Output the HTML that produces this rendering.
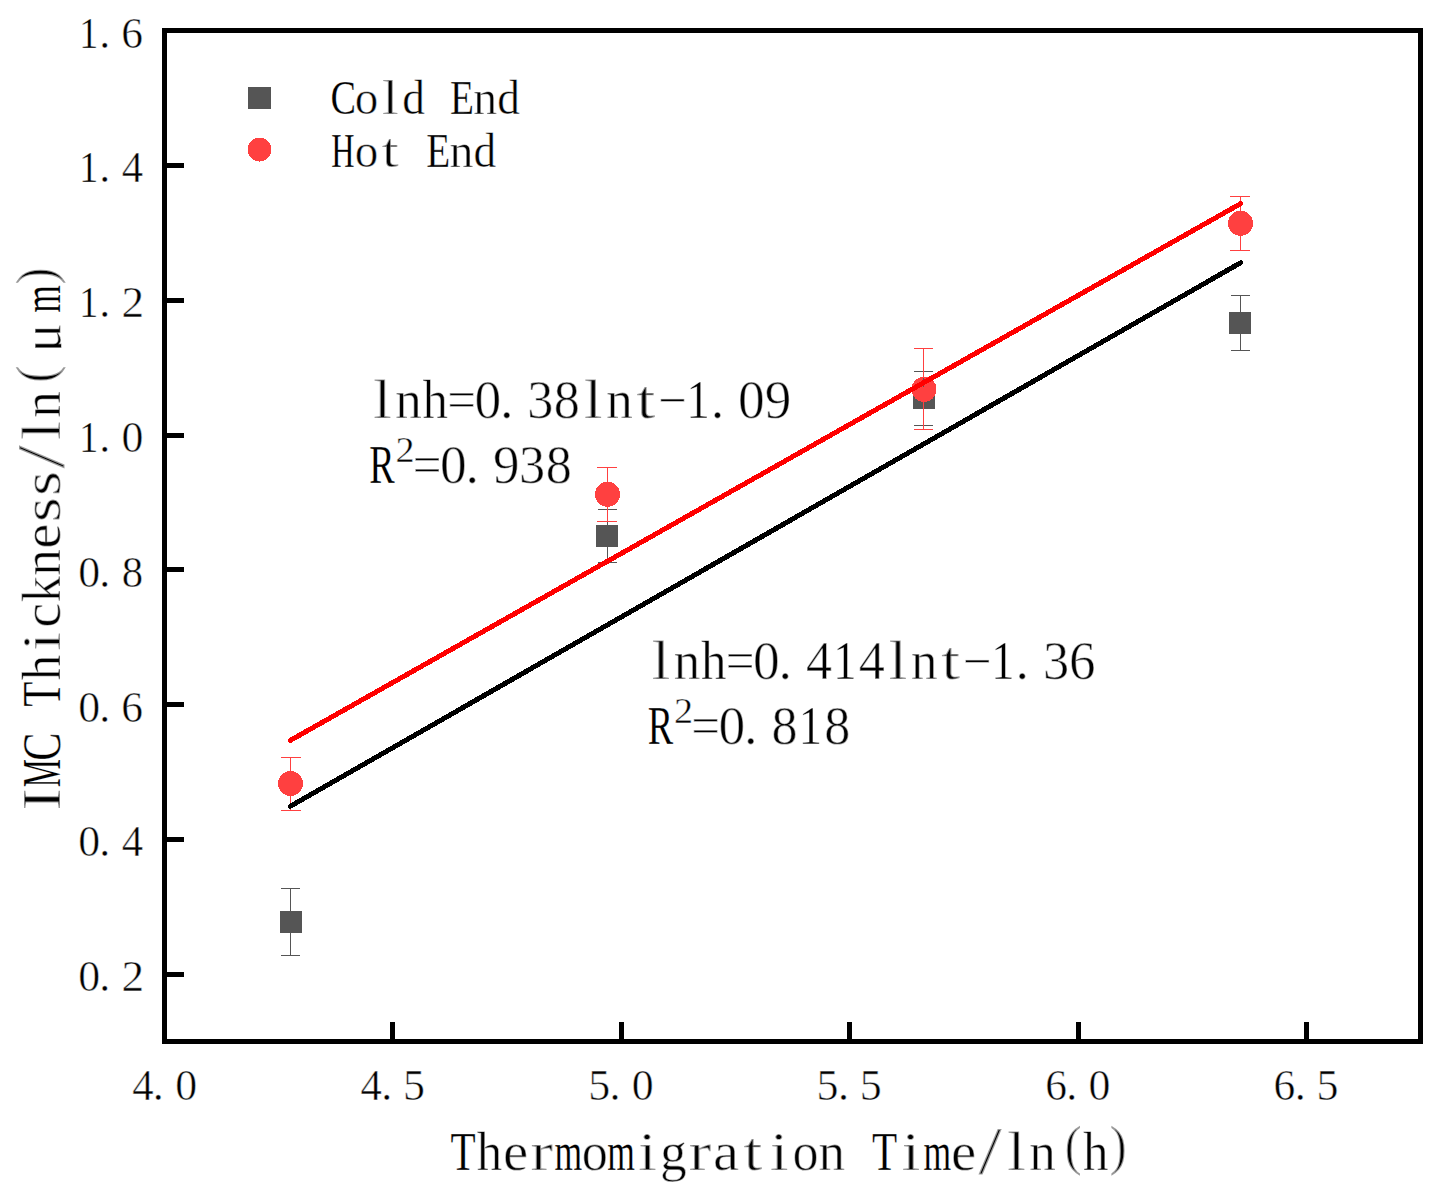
<!DOCTYPE html>
<html lang="en">
<head>
<meta charset="utf-8">
<title>IMC Thickness vs Thermomigration Time</title>
<style>
html,body{margin:0;padding:0;background:#fff;}
body{width:1436px;height:1187px;overflow:hidden;font-family:"Liberation Serif",serif;}
svg{display:block;}
text{white-space:pre;stroke:#fff;stroke-opacity:0.6;}
</style>
</head>
<body>
<svg width="1436" height="1187" viewBox="0 0 1436 1187" font-family="'Liberation Serif', serif" fill="#000">
<rect x="0" y="0" width="1436" height="1187" fill="#fff"/>
<g fill="#000" shape-rendering="crispEdges">
<rect x="165" y="972" width="19" height="5"/>
<rect x="165" y="837" width="19" height="5"/>
<rect x="165" y="702" width="19" height="5"/>
<rect x="165" y="567" width="19" height="5"/>
<rect x="165" y="433" width="19" height="5"/>
<rect x="165" y="298" width="19" height="5"/>
<rect x="165" y="163" width="19" height="5"/>
<rect x="390" y="1022" width="5" height="19"/>
<rect x="619" y="1022" width="5" height="19"/>
<rect x="847" y="1022" width="5" height="19"/>
<rect x="1076" y="1022" width="5" height="19"/>
<rect x="1304" y="1022" width="5" height="19"/>
<path d="M162 28H1423V1044H162Z M167 33V1039H1418V33Z" fill-rule="evenodd"/>
</g>
<g shape-rendering="crispEdges">
<path d="M281 888 h19 v1 h-19z M281 955 h19 v1 h-19z M290 888 h1 v68 h-1z" fill="#555555"/>
<path d="M598 509 h19 v1 h-19z M598 562 h19 v1 h-19z M607 509 h1 v54 h-1z" fill="#555555"/>
<path d="M914 371 h19 v1 h-19z M914 425 h19 v1 h-19z M923 371 h1 v55 h-1z" fill="#555555"/>
<path d="M1231 295 h19 v1 h-19z M1231 350 h19 v1 h-19z M1240 295 h1 v56 h-1z" fill="#555555"/>
<rect x="280" y="911" width="22" height="22" fill="#555555"/>
<rect x="596" y="525" width="22" height="22" fill="#555555"/>
<rect x="913" y="387" width="22" height="22" fill="#555555"/>
<rect x="1229" y="312" width="22" height="22" fill="#555555"/>
<path d="M281 757 h20 v1 h-20z M281 810 h20 v1 h-20z M290 757 h1 v54 h-1z" fill="#ff4040"/>
<path d="M597 467 h20 v1 h-20z M597 521 h20 v1 h-20z M607 467 h1 v55 h-1z" fill="#ff4040"/>
<path d="M914 348 h19 v1 h-19z M914 429 h19 v1 h-19z M923 348 h1 v82 h-1z" fill="#ff4040"/>
<path d="M1230 196 h20 v1 h-20z M1230 250 h20 v1 h-20z M1240 196 h1 v55 h-1z" fill="#ff4040"/>
<circle cx="290.5" cy="783.5" r="12.5" fill="#ff4040"/>
<circle cx="607.5" cy="494.3" r="12.5" fill="#ff4040"/>
<circle cx="924" cy="389.4" r="12.5" fill="#ff4040"/>
<circle cx="1240.5" cy="223.3" r="12.5" fill="#ff4040"/>
<rect x="923" y="378" width="1" height="9" fill="#555555"/>
<line x1="290.5" y1="806.2" x2="1240.5" y2="262.8" stroke="#000" stroke-width="5" stroke-linecap="round"/>
<line x1="290.5" y1="740.3" x2="1240.5" y2="203.7" stroke="#ff0000" stroke-width="5" stroke-linecap="round"/>
</g>
<rect x="248" y="87" width="23" height="22" fill="#555555" shape-rendering="crispEdges"/>
<circle cx="259.5" cy="149.5" r="12" fill="#ff4040" shape-rendering="crispEdges"/>
<text y="991.1" font-size="44" stroke-width="1.06"><tspan x="78.34" textLength="21.91" lengthAdjust="spacingAndGlyphs">0</tspan><tspan x="99.24" textLength="11" lengthAdjust="spacingAndGlyphs">.</tspan><tspan x="121.44" textLength="22.63" lengthAdjust="spacingAndGlyphs">2</tspan></text>
<text y="856.3" font-size="44" stroke-width="1.06"><tspan x="78.34" textLength="21.91" lengthAdjust="spacingAndGlyphs">0</tspan><tspan x="99.24" textLength="11" lengthAdjust="spacingAndGlyphs">.</tspan><tspan x="121.73" textLength="21.37" lengthAdjust="spacingAndGlyphs">4</tspan></text>
<text y="721.5" font-size="44" stroke-width="1.06"><tspan x="78.34" textLength="21.91" lengthAdjust="spacingAndGlyphs">0</tspan><tspan x="99.24" textLength="11" lengthAdjust="spacingAndGlyphs">.</tspan><tspan x="121.34" textLength="21.74" lengthAdjust="spacingAndGlyphs">6</tspan></text>
<text y="586.7" font-size="44" stroke-width="1.06"><tspan x="78.34" textLength="21.91" lengthAdjust="spacingAndGlyphs">0</tspan><tspan x="99.24" textLength="11" lengthAdjust="spacingAndGlyphs">.</tspan><tspan x="121.8" textLength="21.4" lengthAdjust="spacingAndGlyphs">8</tspan></text>
<text y="451.9" font-size="44" stroke-width="1.06"><tspan x="79.26" stroke-width="0.69" textLength="19.02" lengthAdjust="spacingAndGlyphs">1</tspan><tspan x="99.24" textLength="11" lengthAdjust="spacingAndGlyphs">.</tspan><tspan x="121.54" textLength="21.91" lengthAdjust="spacingAndGlyphs">0</tspan></text>
<text y="317.1" font-size="44" stroke-width="1.06"><tspan x="79.26" stroke-width="0.69" textLength="19.02" lengthAdjust="spacingAndGlyphs">1</tspan><tspan x="99.24" textLength="11" lengthAdjust="spacingAndGlyphs">.</tspan><tspan x="121.44" textLength="22.63" lengthAdjust="spacingAndGlyphs">2</tspan></text>
<text y="182.3" font-size="44" stroke-width="1.06"><tspan x="79.26" stroke-width="0.69" textLength="19.02" lengthAdjust="spacingAndGlyphs">1</tspan><tspan x="99.24" textLength="11" lengthAdjust="spacingAndGlyphs">.</tspan><tspan x="121.73" textLength="21.37" lengthAdjust="spacingAndGlyphs">4</tspan></text>
<text y="47.5" font-size="44" stroke-width="1.06"><tspan x="79.26" stroke-width="0.69" textLength="19.02" lengthAdjust="spacingAndGlyphs">1</tspan><tspan x="99.24" textLength="11" lengthAdjust="spacingAndGlyphs">.</tspan><tspan x="121.34" textLength="21.74" lengthAdjust="spacingAndGlyphs">6</tspan></text>
<text y="1100" font-size="44" stroke-width="1.06"><tspan x="132.13" textLength="21.37" lengthAdjust="spacingAndGlyphs">4</tspan><tspan x="152.84" textLength="11" lengthAdjust="spacingAndGlyphs">.</tspan><tspan x="175.14" textLength="21.91" lengthAdjust="spacingAndGlyphs">0</tspan></text>
<text y="1100" font-size="44" stroke-width="1.06"><tspan x="360.49" textLength="21.37" lengthAdjust="spacingAndGlyphs">4</tspan><tspan x="381.21" textLength="11" lengthAdjust="spacingAndGlyphs">.</tspan><tspan x="403.05" textLength="21.98" lengthAdjust="spacingAndGlyphs">5</tspan></text>
<text y="1100" font-size="44" stroke-width="1.06"><tspan x="588.22" textLength="21.98" lengthAdjust="spacingAndGlyphs">5</tspan><tspan x="609.57" textLength="11" lengthAdjust="spacingAndGlyphs">.</tspan><tspan x="631.87" textLength="21.91" lengthAdjust="spacingAndGlyphs">0</tspan></text>
<text y="1100" font-size="44" stroke-width="1.06"><tspan x="816.58" textLength="21.98" lengthAdjust="spacingAndGlyphs">5</tspan><tspan x="837.93" textLength="11" lengthAdjust="spacingAndGlyphs">.</tspan><tspan x="859.78" textLength="21.98" lengthAdjust="spacingAndGlyphs">5</tspan></text>
<text y="1100" font-size="44" stroke-width="1.06"><tspan x="1045.2" textLength="21.74" lengthAdjust="spacingAndGlyphs">6</tspan><tspan x="1066.3" textLength="11" lengthAdjust="spacingAndGlyphs">.</tspan><tspan x="1088.6" textLength="21.91" lengthAdjust="spacingAndGlyphs">0</tspan></text>
<text y="1100" font-size="44" stroke-width="1.06"><tspan x="1273.56" textLength="21.74" lengthAdjust="spacingAndGlyphs">6</tspan><tspan x="1294.66" textLength="11" lengthAdjust="spacingAndGlyphs">.</tspan><tspan x="1316.51" textLength="21.98" lengthAdjust="spacingAndGlyphs">5</tspan></text>
<text y="1169.8" font-size="54" stroke-width="1.3"><tspan x="450.52" stroke-width="0.5" textLength="25.14" lengthAdjust="spacingAndGlyphs">T</tspan><tspan x="476.86" stroke-width="1.1" textLength="25.41" lengthAdjust="spacingAndGlyphs">h</tspan><tspan x="503.06" textLength="25.28" lengthAdjust="spacingAndGlyphs">e</tspan><tspan x="530.56" stroke-width="1.72" textLength="22.48" lengthAdjust="spacingAndGlyphs">r</tspan><tspan x="554.6" stroke-width="0.4" textLength="27.65" lengthAdjust="spacingAndGlyphs">m</tspan><tspan x="581.82" textLength="26.11" lengthAdjust="spacingAndGlyphs">o</tspan><tspan x="607.3" stroke-width="0.4" textLength="27.65" lengthAdjust="spacingAndGlyphs">m</tspan><tspan x="638.27" stroke-width="1.69" textLength="18.47" lengthAdjust="spacingAndGlyphs">i</tspan><tspan x="659.9" textLength="26.77" lengthAdjust="spacingAndGlyphs">g</tspan><tspan x="688.66" stroke-width="1.72" textLength="22.48" lengthAdjust="spacingAndGlyphs">r</tspan><tspan x="712.97" textLength="26.05" lengthAdjust="spacingAndGlyphs">a</tspan><tspan x="743.47" stroke-width="1.72" textLength="18.75" lengthAdjust="spacingAndGlyphs">t</tspan><tspan x="770.02" stroke-width="1.69" textLength="18.47" lengthAdjust="spacingAndGlyphs">i</tspan><tspan x="792.62" textLength="26.11" lengthAdjust="spacingAndGlyphs">o</tspan><tspan x="818.55" textLength="26.53" lengthAdjust="spacingAndGlyphs">n</tspan> <tspan x="872.12" stroke-width="0.5" textLength="25.14" lengthAdjust="spacingAndGlyphs">T</tspan><tspan x="901.77" stroke-width="1.69" textLength="18.47" lengthAdjust="spacingAndGlyphs">i</tspan><tspan x="923.5" stroke-width="0.4" textLength="27.65" lengthAdjust="spacingAndGlyphs">m</tspan><tspan x="951.01" textLength="25.28" lengthAdjust="spacingAndGlyphs">e</tspan><tspan x="978.53" y="1173.3" font-size="68.58" stroke-width="2.2" textLength="23.19" lengthAdjust="spacingAndGlyphs">/</tspan><tspan x="1007.24" y="1169.8" stroke-width="1.69" textLength="18.47" lengthAdjust="spacingAndGlyphs">l</tspan><tspan x="1029.35" textLength="26.53" lengthAdjust="spacingAndGlyphs">n</tspan><tspan x="1064.42" y="1163.8" stroke-width="2.2" textLength="17.08" lengthAdjust="spacingAndGlyphs">(</tspan><tspan x="1082.91" y="1169.8" stroke-width="1.1" textLength="25.41" lengthAdjust="spacingAndGlyphs">h</tspan><tspan x="1109.85" y="1163.8" stroke-width="2.2" textLength="17.08" lengthAdjust="spacingAndGlyphs">)</tspan></text>
<g transform="translate(59.6 812.67) rotate(-90)">
<text y="0" font-size="54" stroke-width="1.3"><tspan x="2.08" stroke-width="1.69" textLength="22.13" lengthAdjust="spacingAndGlyphs">I</tspan><tspan x="25.44" stroke-width="0.4" textLength="28.19" lengthAdjust="spacingAndGlyphs">M</tspan><tspan x="52.01" stroke-width="0.58" textLength="28.33" lengthAdjust="spacingAndGlyphs">C</tspan> <tspan x="105.97" stroke-width="0.5" textLength="25.14" lengthAdjust="spacingAndGlyphs">T</tspan><tspan x="132.31" stroke-width="1.1" textLength="25.41" lengthAdjust="spacingAndGlyphs">h</tspan><tspan x="161.97" stroke-width="1.69" textLength="18.47" lengthAdjust="spacingAndGlyphs">i</tspan><tspan x="184.94" textLength="24.95" lengthAdjust="spacingAndGlyphs">c</tspan><tspan x="210.47" textLength="26.02" lengthAdjust="spacingAndGlyphs">k</tspan><tspan x="236.85" textLength="26.53" lengthAdjust="spacingAndGlyphs">n</tspan><tspan x="263.91" textLength="25.28" lengthAdjust="spacingAndGlyphs">e</tspan><tspan x="290.38" stroke-width="1.62" textLength="24.98" lengthAdjust="spacingAndGlyphs">s</tspan><tspan x="316.73" stroke-width="1.62" textLength="24.98" lengthAdjust="spacingAndGlyphs">s</tspan><tspan x="344.13" y="3.5" font-size="68.58" stroke-width="2.2" textLength="23.19" lengthAdjust="spacingAndGlyphs">/</tspan><tspan x="372.84" y="0" stroke-width="1.69" textLength="18.47" lengthAdjust="spacingAndGlyphs">l</tspan><tspan x="394.95" textLength="26.53" lengthAdjust="spacingAndGlyphs">n</tspan><tspan x="430.02" y="-6" stroke-width="2.2" textLength="17.08" lengthAdjust="spacingAndGlyphs">(</tspan></text>
<clipPath id="muclip"><rect x="447.95" y="-60" width="52.7" height="61.6"/></clipPath>
<text clip-path="url(#muclip)" y="0" font-size="54" stroke-width="1.3"><tspan x="460.44" y="0" textLength="28.95" lengthAdjust="spacingAndGlyphs">μ</tspan></text>
<text y="0" font-size="54" stroke-width="1.3"><tspan x="499.9" y="0" stroke-width="0.4" textLength="27.65" lengthAdjust="spacingAndGlyphs">m</tspan><tspan x="528.15" y="-6" stroke-width="2.2" textLength="17.08" lengthAdjust="spacingAndGlyphs">)</tspan></text>
</g>
<text y="114" font-size="48.7" stroke-width="1.17"><tspan x="330.38" stroke-width="0.52" textLength="25.53" lengthAdjust="spacingAndGlyphs">C</tspan><tspan x="354.86" textLength="23.54" lengthAdjust="spacingAndGlyphs">o</tspan><tspan x="382.05" stroke-width="1.52" textLength="16.65" lengthAdjust="spacingAndGlyphs">l</tspan><tspan x="402.28" stroke-width="0.96" textLength="22.61" lengthAdjust="spacingAndGlyphs">d</tspan> <tspan x="450.04" stroke-width="0.59" textLength="23.99" lengthAdjust="spacingAndGlyphs">E</tspan><tspan x="473.23" textLength="23.91" lengthAdjust="spacingAndGlyphs">n</tspan><tspan x="497.28" stroke-width="0.96" textLength="22.61" lengthAdjust="spacingAndGlyphs">d</tspan></text>
<text y="167" font-size="48.7" stroke-width="1.17"><tspan x="331.26" stroke-width="0.36" textLength="23.25" lengthAdjust="spacingAndGlyphs">H</tspan><tspan x="354.86" textLength="23.54" lengthAdjust="spacingAndGlyphs">o</tspan><tspan x="381.8" stroke-width="1.55" textLength="16.91" lengthAdjust="spacingAndGlyphs">t</tspan> <tspan x="426.29" stroke-width="0.59" textLength="23.99" lengthAdjust="spacingAndGlyphs">E</tspan><tspan x="449.48" textLength="23.91" lengthAdjust="spacingAndGlyphs">n</tspan><tspan x="473.53" stroke-width="0.96" textLength="22.61" lengthAdjust="spacingAndGlyphs">d</tspan></text>
<text y="417.8" font-size="54" stroke-width="1.3"><tspan x="373.24" stroke-width="1.69" textLength="18.47" lengthAdjust="spacingAndGlyphs">l</tspan><tspan x="395.35" textLength="26.53" lengthAdjust="spacingAndGlyphs">n</tspan><tspan x="422.56" stroke-width="1.1" textLength="25.41" lengthAdjust="spacingAndGlyphs">h</tspan><tspan x="447.13" textLength="28.74" lengthAdjust="spacingAndGlyphs">=</tspan><tspan x="474.51" textLength="26.73" lengthAdjust="spacingAndGlyphs">0</tspan><tspan x="499.97" textLength="13.5" lengthAdjust="spacingAndGlyphs">.</tspan><tspan x="527.27" textLength="26.15" lengthAdjust="spacingAndGlyphs">3</tspan><tspan x="553.87" textLength="26.11" lengthAdjust="spacingAndGlyphs">8</tspan><tspan x="584.04" stroke-width="1.69" textLength="18.47" lengthAdjust="spacingAndGlyphs">l</tspan><tspan x="606.15" textLength="26.53" lengthAdjust="spacingAndGlyphs">n</tspan><tspan x="636.47" stroke-width="1.72" textLength="18.75" lengthAdjust="spacingAndGlyphs">t</tspan><tspan x="657.93" textLength="28.74" lengthAdjust="spacingAndGlyphs">−</tspan><tspan x="686.43" stroke-width="0.83" textLength="23.2" lengthAdjust="spacingAndGlyphs">1</tspan><tspan x="710.77" textLength="13.5" lengthAdjust="spacingAndGlyphs">.</tspan><tspan x="738.01" textLength="26.73" lengthAdjust="spacingAndGlyphs">0</tspan><tspan x="764.68" textLength="26.55" lengthAdjust="spacingAndGlyphs">9</tspan></text>
<text y="482.8" font-size="54" stroke-width="1.3"><tspan x="369.26" stroke-width="0.4" textLength="25.39" lengthAdjust="spacingAndGlyphs">R</tspan></text>
<text y="461.8" font-size="36.7" stroke-width="0.88"><tspan x="395.43" textLength="19.07" lengthAdjust="spacingAndGlyphs">2</tspan></text>
<text y="482.8" font-size="54" stroke-width="1.3"><tspan x="412.63" textLength="28.74" lengthAdjust="spacingAndGlyphs">=</tspan><tspan x="440.01" textLength="26.73" lengthAdjust="spacingAndGlyphs">0</tspan><tspan x="465.47" textLength="13.5" lengthAdjust="spacingAndGlyphs">.</tspan><tspan x="493.03" textLength="26.55" lengthAdjust="spacingAndGlyphs">9</tspan><tspan x="519.12" textLength="26.15" lengthAdjust="spacingAndGlyphs">3</tspan><tspan x="545.72" textLength="26.11" lengthAdjust="spacingAndGlyphs">8</tspan></text>
<text y="678.5" font-size="54" stroke-width="1.3"><tspan x="651.74" stroke-width="1.69" textLength="18.47" lengthAdjust="spacingAndGlyphs">l</tspan><tspan x="673.85" textLength="26.53" lengthAdjust="spacingAndGlyphs">n</tspan><tspan x="701.06" stroke-width="1.1" textLength="25.41" lengthAdjust="spacingAndGlyphs">h</tspan><tspan x="725.63" textLength="28.74" lengthAdjust="spacingAndGlyphs">=</tspan><tspan x="753.01" textLength="26.73" lengthAdjust="spacingAndGlyphs">0</tspan><tspan x="778.47" textLength="13.5" lengthAdjust="spacingAndGlyphs">.</tspan><tspan x="805.94" textLength="26.08" lengthAdjust="spacingAndGlyphs">4</tspan><tspan x="833.18" stroke-width="0.83" textLength="23.2" lengthAdjust="spacingAndGlyphs">1</tspan><tspan x="858.64" textLength="26.08" lengthAdjust="spacingAndGlyphs">4</tspan><tspan x="888.89" stroke-width="1.69" textLength="18.47" lengthAdjust="spacingAndGlyphs">l</tspan><tspan x="911" textLength="26.53" lengthAdjust="spacingAndGlyphs">n</tspan><tspan x="941.32" stroke-width="1.72" textLength="18.75" lengthAdjust="spacingAndGlyphs">t</tspan><tspan x="962.78" textLength="28.74" lengthAdjust="spacingAndGlyphs">−</tspan><tspan x="991.28" stroke-width="0.83" textLength="23.2" lengthAdjust="spacingAndGlyphs">1</tspan><tspan x="1015.62" textLength="13.5" lengthAdjust="spacingAndGlyphs">.</tspan><tspan x="1042.92" textLength="26.15" lengthAdjust="spacingAndGlyphs">3</tspan><tspan x="1068.97" textLength="26.52" lengthAdjust="spacingAndGlyphs">6</tspan></text>
<text y="743.5" font-size="54" stroke-width="1.3"><tspan x="647.76" stroke-width="0.4" textLength="25.39" lengthAdjust="spacingAndGlyphs">R</tspan></text>
<text y="722.5" font-size="36.7" stroke-width="0.88"><tspan x="673.93" textLength="19.07" lengthAdjust="spacingAndGlyphs">2</tspan></text>
<text y="743.5" font-size="54" stroke-width="1.3"><tspan x="691.13" textLength="28.74" lengthAdjust="spacingAndGlyphs">=</tspan><tspan x="718.51" textLength="26.73" lengthAdjust="spacingAndGlyphs">0</tspan><tspan x="743.97" textLength="13.5" lengthAdjust="spacingAndGlyphs">.</tspan><tspan x="771.52" textLength="26.11" lengthAdjust="spacingAndGlyphs">8</tspan><tspan x="798.68" stroke-width="0.83" textLength="23.2" lengthAdjust="spacingAndGlyphs">1</tspan><tspan x="824.22" textLength="26.11" lengthAdjust="spacingAndGlyphs">8</tspan></text>
</svg>
</body>
</html>
